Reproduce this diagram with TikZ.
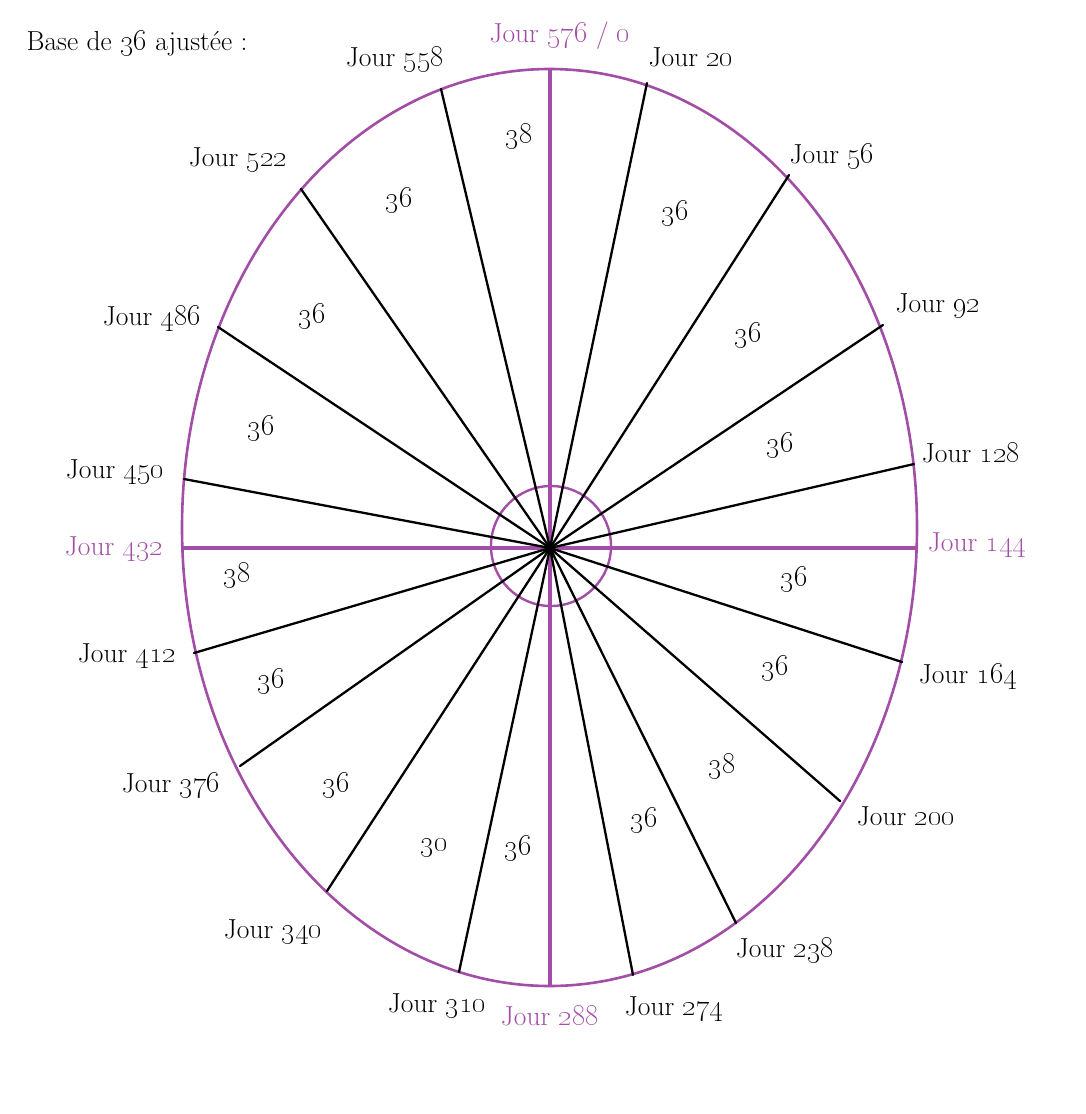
\documentclass[tikz,border=0pt]{standalone}
\definecolor{jourpurple}{HTML}{A24DA6}

\begin{document}
\begin{tikzpicture}[x=1pt, y=-1pt, line cap=round, line join=round,
    lbl/.style={anchor=base, inner sep=0pt, font=\fontsize{27.5}{32}\selectfont},
    plbl/.style={lbl, text=jourpurple},
    spoke/.style={draw=black, line width=2.3pt},
    axis/.style={draw=jourpurple, line width=4.6pt, line cap=butt}]

  \useasboundingbox (0,0) rectangle (1085,1114);

  % ── outer ellipse and inner circle ─────────────────────────────────────

  \coordinate (c) at (550,548);
  \draw[jourpurple, line width=2.6pt] (549.5,527.5)
    ellipse [x radius=367.5, y radius=458.5];
  \draw[jourpurple, line width=2.4pt] (551,546) circle [radius=60];

  % ── purple axes ─────────────────────────────────────────────────────────

  \coordinate (j576) at (550,69);
  \coordinate (j288) at (550,986);
  \coordinate (j432) at (182,548);
  \coordinate (j144) at (917,548);
  \draw[axis] (j576) -- (j288);
  \draw[axis] (j432) -- (j144);

  % ── black spokes ────────────────────────────────────────────────────────

  \foreach \n/\x/\y in {20/647/83, 56/789/175, 92/883/325, 128/914/464,
      164/902/662, 200/840/801, 238/736/923, 274/633/975, 310/459/972,
      340/327/891, 376/240/766, 412/194/653, 450/184/479, 486/218/327,
      522/301/189, 558/441/89}
    \draw[spoke] (c) -- (\x,\y) coordinate (j\n);

  % ── day labels ──────────────────────────────────────────────────────────

  \node[lbl] (title) at (137,50) {Base de \oldstylenums{36} ajustée :};

  \node[plbl] (l576) at (560,42) {Jour \oldstylenums{576} / \oldstylenums{0}};
  \node[plbl] (l144) at (977,551) {Jour \oldstylenums{144}};
  \node[plbl] (l288) at (550,1025) {Jour \oldstylenums{288}};
  \node[plbl] (l432) at (114,555) {Jour \oldstylenums{432}};

  \foreach \n/\x/\y in {20/691/66, 56/832/163, 92/938/312, 128/971/462,
      164/968/683, 200/906/825, 238/785/957, 274/674/1015, 310/437/1012,
      340/273/938, 376/171/792, 412/127/662, 450/115/478, 486/152/325,
      522/238/166, 558/395/66}
    \node[lbl] (l\n) at (\x,\y) {Jour \oldstylenums{\n}};

  % ── sector widths ───────────────────────────────────────────────────────

  \foreach \v/\x/\y [count=\i] in {38/519/143, 36/675/220, 36/748/342,
      36/780/452, 36/794/586, 36/775/675, 38/722/773, 36/644/827,
      36/518/855, 30/434/851, 36/336/792, 36/271/688, 38/237/582,
      36/261/435, 36/312/323, 36/399/207}
    \node[lbl] (w\i) at (\x,\y) {\oldstylenums{\v}};

\end{tikzpicture}
\end{document}
